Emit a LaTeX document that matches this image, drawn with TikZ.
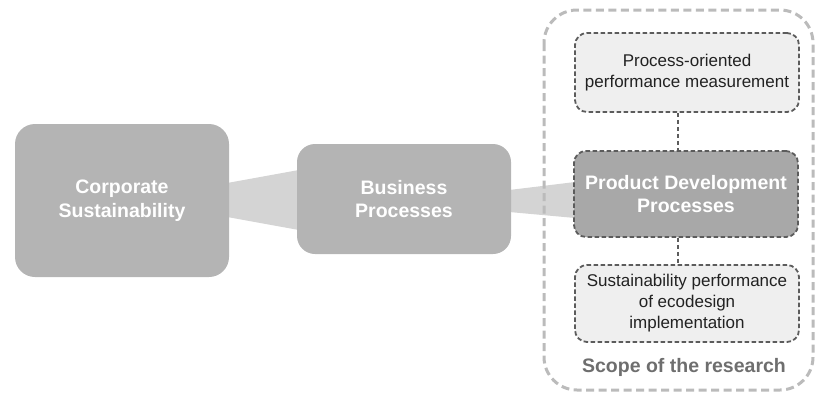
\documentclass[tikz,border=0pt]{standalone}
\usepackage{fontspec}
\setmainfont{Liberation Sans}
\usetikzlibrary{calc,backgrounds}
\definecolor{boxgray}{HTML}{B4B4B4}
\definecolor{wedgegray}{HTML}{D4D4D4}
\definecolor{pdgray}{HTML}{A8A8A8}
\definecolor{lightfill}{HTML}{EFEFEF}
\definecolor{darkline}{HTML}{5C5C5C}
\definecolor{scopeline}{HTML}{BBBBBB}
\definecolor{scopetext}{HTML}{6E6E6E}
\definecolor{smalltext}{HTML}{222222}
\tikzset{
  mainbox/.style={rectangle, fill=boxgray, draw=none, text=white, align=center,
    font=\fontsize{19.5}{23.5}\selectfont\bfseries, inner sep=0pt},
  pdbox/.style={rectangle, fill=pdgray, draw=darkline, line width=1.8pt,
    dash pattern=on 4.5pt off 2.5pt, rounded corners=12pt, text=white, align=center,
    font=\fontsize{19.5}{23.5}\selectfont\bfseries, inner sep=0pt,
    minimum width=224pt, minimum height=86pt},
  subbox/.style={rectangle, fill=lightfill, draw=darkline, line width=1.8pt,
    dash pattern=on 4.5pt off 2.5pt, rounded corners=12pt, text=smalltext, align=center,
    font=\fontsize{17}{21}\selectfont, inner sep=0pt,
    minimum width=224pt},
  wedge/.style={fill=wedgegray, draw=none},
  linkline/.style={draw=darkline, line width=1.8pt, dash pattern=on 4.5pt off 2.5pt},
  scopebox/.style={draw=scopeline, line width=3pt, dash pattern=on 8pt off 4.5pt,
    rounded corners=33pt}
}
\begin{document}
\begin{tikzpicture}[x=1pt,y=-1pt]
\useasboundingbox (0,0) rectangle (816,394);

% scope of research
\draw[scopebox] (544,10) rectangle (813,390);
\node[font=\fontsize{19.5}{23}\selectfont\bfseries, text=scopetext] (scope) at (684,367) {Scope of the research};

% main boxes
\node[mainbox, minimum width=214pt, minimum height=153pt, rounded corners=20pt] (cs) at (122,200.5) {Corporate\\Sustainability};
\node[mainbox, minimum width=214pt, minimum height=110pt, rounded corners=18pt] (bp) at (404,199) {Business\\Processes};

% right-hand boxes
\node[subbox, minimum height=79pt] (pm) at (687,72.5) {Process-oriented\\performance measurement};
\node[pdbox] (pd) at (686,194) {Product Development\\Processes};
\node[subbox, minimum height=77pt] (sp) at (687,303.5) {Sustainability performance\\of ecodesign\\implementation};

% wedges (behind everything)
\begin{scope}[on background layer]
\path[wedge] ($(cs.east)+(-2,-17.5)$) -- ($(bp.west)+(2,-29)$) -- ($(bp.west)+(2,31)$) -- ($(cs.east)+(-2,16.5)$) -- cycle;
\path[wedge] ($(bp.east)+(-2,-9)$) -- ($(pd.west)+(2,-12)$) -- ($(pd.west)+(2,24)$) -- ($(bp.east)+(-2,13)$) -- cycle;
\end{scope}

% dashed links
\coordinate (lx) at (678,0);
\draw[linkline] (pm.south -| lx) -- (pd.north -| lx);
\draw[linkline] (pd.south -| lx) -- (sp.north -| lx);
\end{tikzpicture}
\end{document}
